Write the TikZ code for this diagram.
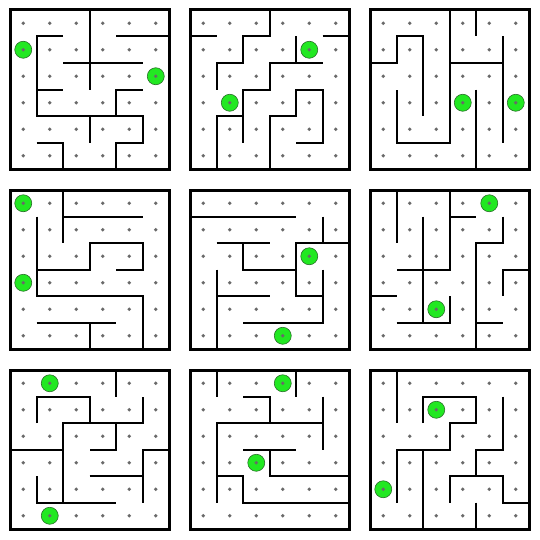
\documentclass[tikz,border=0pt]{standalone}
\usepackage{tikz}
\usetikzlibrary{positioning}
\definecolor{goalgreen}{RGB}{34,232,34}
\definecolor{goalrim}{RGB}{40,110,40}
\definecolor{dotgray}{RGB}{105,105,105}
\begin{document}
\begin{tikzpicture}
		[x=26.5pt,y=-26.5pt,
		wall/.style={line width=2pt},
		frame/.style={line width=3pt},
		grid dot/.style={fill=dotgray,draw=none},
		goal/.style={circle,fill=goalgreen,draw=goalrim,line width=0.6pt,minimum size=17pt,inner sep=0pt}]
		\def \pd {6.7925}
		\def \mg {0.3774}
		\fill[white] (0,0) rectangle (20.377,20.377);
		\useasboundingbox (0,0) rectangle (20.377,20.377);
		
		% row 1
		\begin{scope}[shift={(\mg,\mg)}]
		\node[goal] (a1) at (0.5,1.5) {};
		\node[goal] (a2) at (5.5,2.5) {};
		\draw[wall] (3,0) -- (3,3);
		\draw[wall] (2,1) -- (1,1) -- (1,4) -- (5,4) -- (5,5) -- (4,5) -- (4,6);
		\draw[wall] (4,1) -- (6,1);
		\draw[wall] (2,2) -- (5,2);
		\draw[wall] (1,3) -- (2,3);
		\draw[wall] (5,3) -- (4,3) -- (4,4);
		\draw[wall] (3,4) -- (3,5);
		\draw[wall] (1,5) -- (2,5) -- (2,6);
		\end{scope}
		
		\begin{scope}[shift={(\mg+\pd,\mg)}]
		\node[goal] (b1) at (4.5,1.5) {};
		\node[goal] (b2) at (1.5,3.5) {};
		\draw[wall] (3,0) -- (3,1) -- (2,1) -- (2,2) -- (1,2) -- (1,3);
		\draw[wall] (0,1) -- (1,1);
		\draw[wall] (4,1) -- (4,2);
		\draw[wall] (5,2) -- (3,2) -- (3,3) -- (2,3) -- (2,5);
		\draw[wall] (5,1) -- (6,1);
		\draw[wall] (1,6) -- (1,4) -- (2,4);
		\draw[wall] (3,6) -- (3,4) -- (4,4) -- (4,3) -- (5,3) -- (5,5) -- (4,5);
		\end{scope}
		
		\begin{scope}[shift={(\mg+2*\pd,\mg)}]
		\node[goal] (c1) at (3.5,3.5) {};
		\node[goal] (c2) at (5.5,3.5) {};
		\draw[wall] (3,0) -- (3,5) -- (1,5) -- (1,3);
		\draw[wall] (0,2) -- (1,2) -- (1,1) -- (2,1) -- (2,4);
		\draw[wall] (4,0) -- (4,1);
		\draw[wall] (3,2) -- (5,2);
		\draw[wall] (5,1) -- (5,5);
		\draw[wall] (4,3) -- (4,6);
		\end{scope}
		
		% row 2
		\begin{scope}[shift={(\mg,\mg+\pd)}]
		\node[goal] (d1) at (0.5,0.5) {};
		\node[goal] (d2) at (0.5,3.5) {};
		\draw[wall] (2,0) -- (2,2);
		\draw[wall] (2,1) -- (5,1);
		\draw[wall] (1,1) -- (1,4) -- (5,4) -- (5,6);
		\draw[wall] (1,3) -- (3,3) -- (3,2) -- (5,2) -- (5,3) -- (4,3);
		\draw[wall] (1,5) -- (4,5);
		\draw[wall] (3,5) -- (3,6);
		\end{scope}
		
		\begin{scope}[shift={(\mg+\pd,\mg+\pd)}]
		\node[goal] (e1) at (4.5,2.5) {};
		\node[goal] (e2) at (3.5,5.5) {};
		\draw[wall] (0,1) -- (4,1);
		\draw[wall] (5,1) -- (5,2);
		\draw[wall] (6,2) -- (4,2) -- (4,4) -- (5,4);
		\draw[wall] (5,3) -- (5,5) -- (2,5);
		\draw[wall] (1,2) -- (3,2);
		\draw[wall] (2,2) -- (2,3) -- (4,3);
		\draw[wall] (1,3) -- (1,6);
		\draw[wall] (1,4) -- (3,4);
		\end{scope}
		
		\begin{scope}[shift={(\mg+2*\pd,\mg+\pd)}]
		\node[goal] (f1) at (4.5,0.5) {};
		\node[goal] (f2) at (2.5,4.5) {};
		\draw[wall] (1,0) -- (1,2);
		\draw[wall] (3,0) -- (3,3) -- (1,3);
		\draw[wall] (3,1) -- (4,1);
		\draw[wall] (2,1) -- (2,5);
		\draw[wall] (5,1) -- (5,2) -- (4,2) -- (4,6);
		\draw[wall] (6,3) -- (5,3) -- (5,4);
		\draw[wall] (0,4) -- (1,4);
		\draw[wall] (1,5) -- (3,5) -- (3,4);
		\draw[wall] (4,5) -- (5,5);
		\end{scope}
		
		% row 3
		\begin{scope}[shift={(\mg,\mg+2*\pd)}]
		\node[goal] (g1) at (1.5,0.5) {};
		\node[goal] (g2) at (1.5,5.5) {};
		\draw[wall] (4,0) -- (4,1);
		\draw[wall] (1,2) -- (1,1) -- (3,1) -- (3,2);
		\draw[wall] (2,5) -- (2,2) -- (5,2) -- (5,1);
		\draw[wall] (0,3) -- (2,3);
		\draw[wall] (4,2) -- (4,3) -- (3,3);
		\draw[wall] (6,3) -- (5,3) -- (5,5);
		\draw[wall] (3,4) -- (5,4);
		\draw[wall] (1,4) -- (1,5) -- (4,5);
		\end{scope}
		
		\begin{scope}[shift={(\mg+\pd,\mg+2*\pd)}]
		\node[goal] (h1) at (3.5,0.5) {};
		\node[goal] (h2) at (2.5,3.5) {};
		\draw[wall] (1,0) -- (1,1);
		\draw[wall] (4,0) -- (4,1);
		\draw[wall] (2,1) -- (3,1) -- (3,2);
		\draw[wall] (1,5) -- (1,2) -- (5,2);
		\draw[wall] (5,1) -- (5,3);
		\draw[wall] (2,3) -- (4,3);
		\draw[wall] (3,3) -- (3,4) -- (6,4);
		\draw[wall] (1,4) -- (2,4) -- (2,5) -- (6,5);
		\end{scope}
		
		\begin{scope}[shift={(\mg+2*\pd,\mg+2*\pd)}]
		\node[goal] (i1) at (2.5,1.5) {};
		\node[goal] (i2) at (0.5,4.5) {};
		\draw[wall] (1,0) -- (1,2);
		\draw[wall] (2,2) -- (2,1) -- (4,1) -- (4,2) -- (3,2) -- (3,3) -- (1,3) -- (1,5);
		\draw[wall] (2,3) -- (2,6);
		\draw[wall] (5,1) -- (5,3) -- (4,3) -- (4,4);
		\draw[wall] (3,5) -- (3,4) -- (5,4) -- (5,5) -- (6,5);
		\draw[wall] (4,5) -- (4,6);
		\end{scope}
		
		% frames and dots
		\foreach \r in {0,1,2}
		\foreach \c in {0,1,2}
		{
			\begin{scope}[shift={(\mg+\c*\pd,\mg+\r*\pd)}]
			\foreach \i in {0,...,5}
			\foreach \j in {0,...,5}
			\fill[grid dot] (\i+.5,\j+.5) circle (1.8pt);
			\draw[frame] (0,0) rectangle (6,6);
			\end{scope}
		}
\end{tikzpicture}
\end{document}
